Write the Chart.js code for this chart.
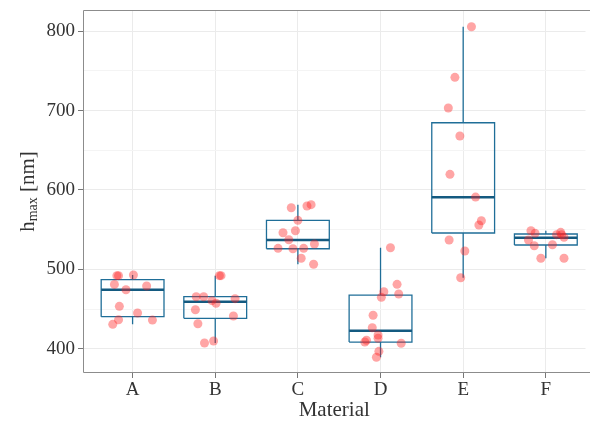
<!DOCTYPE html>
<html>
<head>
<meta charset="utf-8">
<script src="https://cdn.jsdelivr.net/npm/chart.js@4.4.1/dist/chart.umd.min.js"></script>
<style>
  body { margin: 0; background: #fff; }
  #wrap { width: 590px; height: 423px; position: relative; }
</style>
</head>
<body>
<div id="wrap"><canvas id="chart"></canvas></div>
<script>
// categories
const materials = ["A", "B", "C", "D", "E", "F"];

// measured h_max values per material (nm)
const hmaxA = [492, 492, 492.8, 481, 474.3, 479, 453.4, 445, 436.5, 436, 430.7];
const hmaxB = [492, 492, 465.5, 465.5, 460.5, 457.2, 463, 449, 441.2, 431.5, 407.2, 409.7];
const hmaxC = [577.6, 579.7, 581.4, 561.7, 546.1, 548.6, 537.3, 526.4, 525.9, 526.4, 531.9, 513.9, 506.3];
const hmaxD = [527.2, 481.1, 468.9, 471.8, 464.7, 442.1, 426.4, 417.3, 413.1, 410.6, 408.4, 406.8, 396.7, 389.2];
const hmaxE = [805.5, 741.8, 703.2, 667.9, 619.6, 591, 561.2, 555.8, 536.9, 523, 489.4];
const hmaxF = [548.6, 545.3, 536.9, 529.7, 543.6, 546.6, 543.6, 540.3, 531, 513.9, 513.9];

// horizontal jitter of each point (category units)
const jitterA = [-0.19, -0.17, 0.01, -0.22, -0.08, 0.17, -0.16, 0.06, -0.17, 0.24, -0.24];
const jitterB = [0.05, 0.07, -0.23, -0.14, -0.04, 0.01, 0.24, -0.24, 0.22, -0.21, -0.13, -0.02];
const jitterC = [-0.08, 0.11, 0.16, 0, -0.18, -0.03, -0.11, -0.24, -0.06, 0.07, 0.2, 0.04, 0.19];
const jitterD = [0.12, 0.2, 0.22, 0.04, 0.01, -0.09, -0.1, -0.03, -0.03, -0.17, -0.19, 0.25, -0.02, -0.05];
const jitterE = [0.1, -0.1, -0.18, -0.04, -0.16, 0.15, 0.22, 0.19, -0.17, 0.02, -0.03];
const jitterF = [-0.18, -0.13, -0.21, -0.14, 0.13, 0.18, 0.19, 0.22, 0.08, -0.06, 0.22];

// box statistics
const q1 = [440.3, 438.3, 525.9, 408.4, 545.7, 530.6];
const medians = [474.3, 459.2, 536.9, 422.7, 590.7, 539.8];
const q3 = [486.9, 465.5, 561.7, 467.6, 684.6, 544.5];
const whiskerLow = [430.7, 407.2, 506.3, 389.2, 489.4, 513.9];
const whiskerHigh = [492.8, 492, 581.4, 527.2, 805.5, 548.6];

const yTicks = [400, 450, 500, 550, 600, 650, 700, 750, 800];

const allValues = [hmaxA, hmaxB, hmaxC, hmaxD, hmaxE, hmaxF];
const allJitter = [jitterA, jitterB, jitterC, jitterD, jitterE, jitterF];

const halfBox = 0.38;
const boxColor = "#1f6e98";
const medianColor = "#145a80";
const font = "'Liberation Serif', serif";

// jittered points
const pointData = [];
allValues.forEach((vals, i) => {
  vals.forEach((v, j) => pointData.push({ x: i + allJitter[i][j], y: v }));
});

// box outlines, whiskers and medians as broken line datasets
const boxData = [];
const whiskerData = [];
const medianData = [];
materials.forEach((m, i) => {
  boxData.push(
    { x: i - halfBox, y: q1[i] }, { x: i + halfBox, y: q1[i] },
    { x: i + halfBox, y: q3[i] }, { x: i - halfBox, y: q3[i] },
    { x: i - halfBox, y: q1[i] }, { x: i, y: null }
  );
  whiskerData.push(
    { x: i, y: q3[i] }, { x: i, y: whiskerHigh[i] }, { x: i, y: null },
    { x: i, y: q1[i] }, { x: i, y: whiskerLow[i] }, { x: i, y: null }
  );
  medianData.push({ x: i - halfBox, y: medians[i] }, { x: i + halfBox, y: medians[i] }, { x: i, y: null });
});

// frame and y title with subscript
const framePlugin = {
  id: "frame",
  beforeDatasetsDraw(chart) {
    const { ctx, chartArea: a } = chart;
    ctx.save();
    ctx.strokeStyle = "#8c8c8c";
    ctx.lineWidth = 1;
    ctx.beginPath();
    ctx.moveTo(a.right + 5, a.top + 0.5);
    ctx.lineTo(a.left + 0.5, a.top + 0.5);
    ctx.lineTo(a.left + 0.5, a.bottom - 0.5);
    ctx.lineTo(a.right + 5, a.bottom - 0.5);
    ctx.stroke();
    ctx.restore();
  },
  afterDraw(chart) {
    const { ctx, chartArea: a } = chart;
    ctx.save();
    ctx.translate(28, (a.top + a.bottom) / 2);
    ctx.rotate(-Math.PI / 2);
    ctx.fillStyle = "#333";
    ctx.textBaseline = "middle";
    const big = "21px " + font;
    const small = "14px " + font;
    ctx.font = big;
    const w1 = ctx.measureText("h").width;
    const w3 = ctx.measureText(" [nm]").width;
    ctx.font = small;
    const w2 = ctx.measureText("max").width;
    let x = -(w1 + w2 + w3) / 2;
    ctx.font = big;
    ctx.fillText("h", x, 0);
    x += w1;
    ctx.font = small;
    ctx.fillText("max", x, 5);
    x += w2;
    ctx.font = big;
    ctx.fillText(" [nm]", x, 0);
    ctx.restore();
  }
};

new Chart(document.getElementById("chart"), {
  type: "scatter",
  data: {
    datasets: [
      {
        label: "points",
        data: pointData,
        backgroundColor: "rgba(255, 30, 30, 0.4)",
        borderWidth: 0,
        pointRadius: 4.5
      },
      {
        type: "line",
        label: "medians",
        data: medianData,
        borderColor: medianColor,
        borderWidth: 2.4,
        pointRadius: 0,
        fill: false,
        spanGaps: false
      },
      {
        type: "line",
        label: "boxes",
        data: boxData,
        borderColor: boxColor,
        borderWidth: 1.3,
        pointRadius: 0,
        fill: false,
        spanGaps: false
      },
      {
        type: "line",
        label: "whiskers",
        data: whiskerData,
        borderColor: boxColor,
        borderWidth: 1.3,
        pointRadius: 0,
        fill: false,
        spanGaps: false
      }
    ]
  },
  options: {
    responsive: true,
    maintainAspectRatio: false,
    animation: false,
    layout: { padding: { top: 10, right: 1, left: 0, bottom: 0 } },
    plugins: { legend: { display: false }, tooltip: { enabled: false } },
    scales: {
      x: {
        type: "linear",
        min: -0.6,
        max: 5.48,
        afterBuildTicks: (scale) => { scale.ticks = materials.map((m, i) => ({ value: i })); },
        afterFit: (scale) => { scale.height = 50; scale.paddingLeft = 0; scale.paddingRight = 0; },
        ticks: {
          callback: (v) => materials[v],
          color: "#333",
          font: { family: font, size: 19 },
          padding: 1,
          maxRotation: 0
        },
        grid: { color: "#ebebeb", tickColor: "#777", tickLength: 5 },
        border: { display: false },
        title: {
          display: true,
          text: "Material",
          color: "#333",
          font: { family: font, size: 21 },
          padding: { top: 1, bottom: 0 }
        }
      },
      y: {
        min: 369.4,
        max: 826.6,
        afterBuildTicks: (scale) => { scale.ticks = yTicks.map(v => ({ value: v })); },
        afterFit: (scale) => { scale.width = 83; scale.paddingTop = 0; scale.paddingBottom = 0; },
        ticks: {
          callback: (v) => (v % 100 === 0 ? v : ""),
          color: "#333",
          font: { family: font, size: 19 },
          padding: 3
        },
        grid: {
          color: (c) => (c.tick && c.tick.value % 100 === 0 ? "#ebebeb" : "#f4f4f4"),
          tickColor: (c) => (c.tick && c.tick.value % 100 === 0 ? "#777" : "rgba(0,0,0,0)"),
          tickLength: 5
        },
        border: { display: false }
      }
    }
  },
  plugins: [framePlugin]
});
</script>
</body>
</html>
